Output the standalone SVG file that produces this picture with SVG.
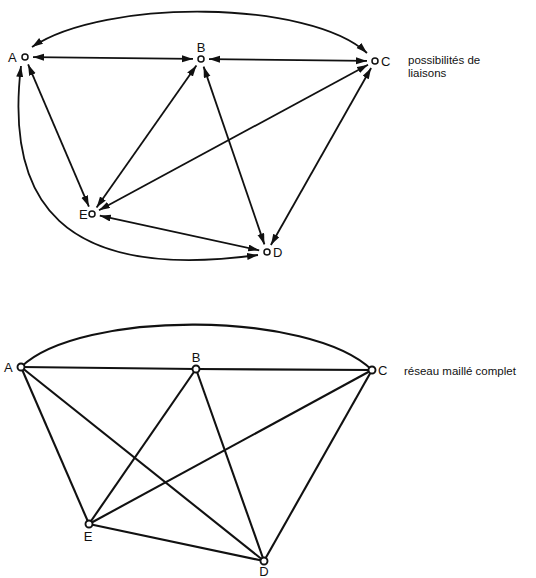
<svg xmlns="http://www.w3.org/2000/svg" width="536" height="578" viewBox="0 0 536 578">
<style>
.bg{fill:#ffffff}
.ea{fill:none;stroke:#111;stroke-width:1.8;marker-start:url(#ah);marker-end:url(#ah)}
.e2{fill:none;stroke:#111;stroke-width:2.1}
.n{fill:#fff;stroke:#111;stroke-width:1.5}
.n2{fill:#fff;stroke:#111;stroke-width:1.9}
.lb{font-family:"Liberation Sans",Arial,sans-serif;font-size:13px;fill:#111}
.tx{font-family:"Liberation Sans",Arial,sans-serif;font-size:11.5px;fill:#111}
</style>
<defs>
<marker id="ah" markerUnits="userSpaceOnUse" markerWidth="12" markerHeight="8" refX="11" refY="3.5" orient="auto-start-reverse">
<path d="M0,0 L11,3.5 L0,7 z" fill="#111"/>
</marker>
</defs>
<rect class="bg" x="0" y="0" width="536" height="578"/>

<g id="connectors-top">
<path class="ea" d="M32,47 C105,-2 310,0 367,53"/>
<path class="ea" d="M21,66 C5,200 60,282 258,255"/>
<line class="ea" x1="33" y1="57.1" x2="193" y2="58.9"/>
<line class="ea" x1="209" y1="59.1" x2="367" y2="60.9"/>
<line class="ea" x1="28.1" y1="64.4" x2="88.9" y2="206.6"/>
<line class="ea" x1="196.4" y1="65.5" x2="96.6" y2="207.5"/>
<line class="ea" x1="203.6" y1="66.6" x2="264.4" y2="244.4"/>
<line class="ea" x1="368" y1="64.8" x2="99" y2="210.2"/>
<line class="ea" x1="371.1" y1="68" x2="270.9" y2="245"/>
<line class="ea" x1="99.8" y1="215.7" x2="259.2" y2="250.3"/>
</g>

<g id="top-A"><circle class="n" cx="25" cy="57" r="3"/><text class="lb" x="8" y="61.5">A</text></g>
<g id="top-B"><circle class="n" cx="201" cy="59" r="3"/><text class="lb" x="201" y="52" text-anchor="middle">B</text></g>
<g id="top-C"><circle class="n" cx="375" cy="61" r="3"/><text class="lb" x="381" y="66">C</text></g>
<g id="top-E"><circle class="n" cx="92" cy="214" r="3"/><text class="lb" x="79" y="218.5">E</text></g>
<g id="top-D"><circle class="n" cx="267" cy="252" r="3"/><text class="lb" x="273" y="257">D</text></g>
<g id="caption-top"><text class="tx" x="408" y="64">possibilités de</text><text class="tx" x="408" y="77">liaisons</text></g>

<g id="connectors-bottom">
<path class="e2" d="M21,367 C80,310 310,310 372,370"/>
<line class="e2" x1="21" y1="367" x2="196" y2="369"/>
<line class="e2" x1="196" y1="369" x2="372" y2="370"/>
<line class="e2" x1="21" y1="367" x2="89" y2="524"/>
<line class="e2" x1="21" y1="367" x2="264" y2="561"/>
<line class="e2" x1="196" y1="369" x2="89" y2="524"/>
<line class="e2" x1="196" y1="369" x2="264" y2="561"/>
<line class="e2" x1="372" y1="370" x2="89" y2="524"/>
<line class="e2" x1="372" y1="370" x2="264" y2="561"/>
<line class="e2" x1="89" y1="524" x2="264" y2="561"/>
</g>

<g id="bot-A"><circle class="n2" cx="21" cy="367" r="3.5"/><text class="lb" x="4" y="372">A</text></g>
<g id="bot-B"><circle class="n2" cx="196" cy="369" r="3.5"/><text class="lb" x="196" y="362" text-anchor="middle">B</text></g>
<g id="bot-C"><circle class="n2" cx="372" cy="370" r="3.5"/><text class="lb" x="378" y="375">C</text></g>
<g id="bot-E"><circle class="n2" cx="89" cy="524" r="3.5"/><text class="lb" x="88" y="541" text-anchor="middle">E</text></g>
<g id="bot-D"><circle class="n2" cx="264" cy="561" r="3.5"/><text class="lb" x="264" y="576" text-anchor="middle">D</text></g>
<g id="caption-bottom"><text class="tx" x="404" y="375">réseau maillé complet</text></g>
</svg>
